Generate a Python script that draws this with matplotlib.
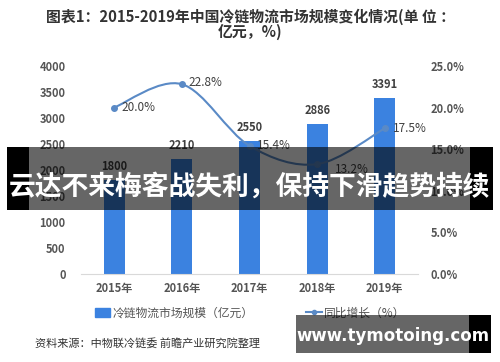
import numpy as np
import matplotlib
matplotlib.use("Agg")
import matplotlib.pyplot as plt
from matplotlib.path import Path
from matplotlib.patches import PathPatch, Rectangle
from matplotlib.lines import Line2D

plt.rcParams['font.family'] = ['Noto Sans CJK SC', 'DejaVu Sans']

years = ["2015年", "2016年", "2017年", "2018年", "2019年"]
scale = [1800, 2210, 2550, 2886, 3391]
growth = [20.0, 22.8, 15.4, 13.2, 17.5]
left_ticks = [0, 500, 1000, 1500, 2000, 2500, 3000, 3500, 4000]
right_ticks = [0.0, 5.0, 10.0, 15.0, 20.0, 25.0]

bar_c = "#3b82e0"
line_c = "#5a8ac6"
txt_c = "#404040"

fig = plt.figure(figsize=(5, 3.62), dpi=100)
ax = fig.add_axes([0.162, 0.243, 0.674, 0.575])
ax2 = ax.twinx()

x = np.arange(len(years))
bars = ax.bar(x, scale, width=0.31, color=bar_c, zorder=2)
for xi, v in zip(x, scale):
    ax.annotate(str(v), (xi, v), xytext=(0, 5), textcoords="offset points",
                ha="center", va="bottom", fontsize=8, fontweight="bold",
                color=txt_c)

ax.set_xlim(-0.49, 4.49)
ax.set_ylim(0, 4000)
ax.set_yticks(left_ticks)
ax.set_xticks(x)
ax.set_xticklabels(years, fontsize=8.5, color="#555555", fontweight="bold")
ax.tick_params(axis="both", length=0, labelsize=8, labelcolor="#555555")
ax.tick_params(axis="y", pad=11)
ax.tick_params(axis="x", pad=6)
for lab in ax.get_yticklabels():
    lab.set_fontweight("bold")
for s in ["top", "left", "right"]:
    ax.spines[s].set_visible(False)
    ax2.spines[s].set_visible(False)
ax.spines["bottom"].set_color("#d9d9d9")
ax2.spines["bottom"].set_visible(False)

# smoothed growth line (bezier through the data points)
gy = np.array(growth)
pts = np.column_stack((x, gy))
verts = [pts[0]]
codes = [Path.MOVETO]
for i in range(len(pts) - 1):
    p0 = pts[i - 1] if i > 0 else pts[i]
    p1 = pts[i]
    p2 = pts[i + 1]
    p3 = pts[i + 2] if i + 2 < len(pts) else pts[i + 1]
    verts += [p1 + (p2 - p0) / 6.0, p2 - (p3 - p1) / 6.0, p2]
    codes += [Path.CURVE4] * 3
ax2.add_patch(PathPatch(Path(verts, codes), fc="none", ec=line_c, lw=1.5,
                        zorder=3))
ax2.plot(x, gy, "o", color=line_c, ms=4, zorder=4)
ax2.set_ylim(0, 25)
ax2.set_yticks(right_ticks)
ax2.set_yticklabels(["{:.1f}%".format(t) for t in right_ticks])
ax2.tick_params(axis="y", length=0, labelsize=8, labelcolor="#555555", pad=9)
for lab in ax2.get_yticklabels():
    lab.set_fontweight("bold")

offs = [(5, 0), (5, 1), (5, 0), (13, -4), (6, 0)]
for xi, v, o in zip(x, gy, offs):
    ax2.annotate("{:.1f}%".format(v), (xi, v), xytext=o,
                 textcoords="offset points", ha="left", va="center",
                 fontsize=8.5, color=txt_c)

fig.text(0.5, 0.953, "图表1：2015-2019年中国冷链物流市场规模变化情况(单 位 ：",
         ha="center", va="center", fontsize=10.7, fontweight="bold",
         color="#333333")
fig.text(0.5, 0.912, "亿元，%)", ha="center", va="center", fontsize=10.7,
         fontweight="bold", color="#333333")

h1 = Rectangle((0, 0), 1, 1, color=bar_c)
h2 = Line2D([], [], color=line_c, marker="o", ms=3, lw=1.5)
fig.legend([h1, h2], ["冷链物流市场规模（亿元）", "同比增长（%）"],
           loc="center", bbox_to_anchor=(0.5, 0.135), ncol=2, frameon=False,
           fontsize=8.5, labelcolor="#555555", handlelength=1.3,
           handletextpad=0.2, columnspacing=4.5)

fig.text(0.07, 0.052, "资料来源：中物联冷链委 前瞻产业研究院整理",
         ha="left", va="center", fontsize=8, color="#333333")

# overlay banner
def px_rect(x0, y0, x1, y1, **kw):
    fig.add_artist(Rectangle((x0 / 500, 1 - y1 / 362), (x1 - x0) / 500,
                             (y1 - y0) / 362, transform=fig.transFigure,
                             zorder=10, **kw))

px_rect(7, 147, 29, 210, color="black", lw=0)
px_rect(29, 147, 470, 210, color="black", alpha=0.6, lw=0)
px_rect(470, 147, 493, 210, color="black", lw=0)
fig.text(0.5, 1 - 187 / 362, "云达不来梅客战失利，保持下滑趋势持续",
         ha="center", va="center", fontsize=19.3, fontweight="bold",
         color="white", zorder=11)

px_rect(296, 315, 469, 353, color="black", alpha=0.6, lw=0)
px_rect(469, 315, 491, 353, color="black", lw=0)
fig.text(393 / 500, 1 - 336 / 362, "www.tymotoing.com", ha="center",
         va="center", fontsize=12, fontweight="bold", color="white",
         family="DejaVu Sans", zorder=11)

fig.savefig("out.png", dpi=100)
